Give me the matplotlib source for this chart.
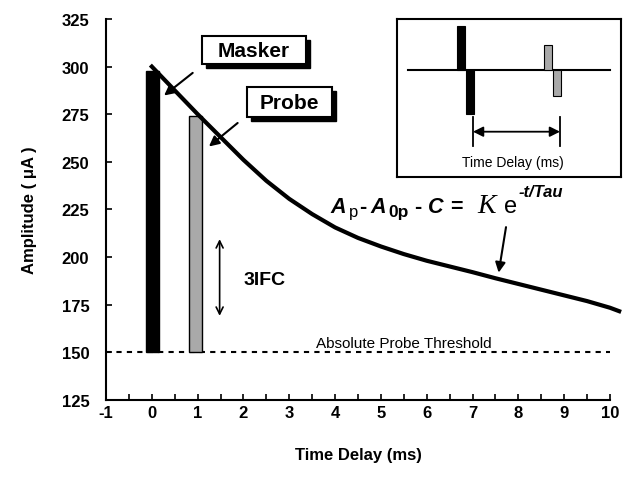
import matplotlib
matplotlib.use("Agg")
import matplotlib.pyplot as plt
from matplotlib.patches import Rectangle

plt.rcParams["font.family"] = ["Liberation Sans", "DejaVu Sans"]
plt.rcParams["axes.unicode_minus"] = False

# Fitted recovery curve
delay_ms = [0, 0.5, 1, 1.5, 2, 2.5, 3, 3.5, 4, 4.5, 5, 5.5, 6, 6.5,
            7, 7.5, 8, 8.5, 9, 9.5, 10, 10.2]
amplitude_ua = [300, 287.5, 275, 263, 251, 240, 230.5, 222.5, 215.5, 210,
                205.5, 201.5, 198, 195, 192, 188.8, 185.8, 182.8, 179.8,
                176.8, 173.3, 171.5]

# Masker / probe bars
stim_names = ["Masker", "Probe"]
stim_delay = [0.02, 0.95]
stim_peak = [297.5, 274]
stim_colors = ["black", "#a9a9a9"]
THRESHOLD = 150

# Inset schematic: biphasic pulse phases
inset_phase_start = [60, 69, 147, 156]
inset_phase_width = [8, 8, 7.5, 7.5]
inset_phase_amp = [44, -44, 25, -26]
inset_phase_color = ["black", "black", "#a9a9a9", "#a9a9a9"]
inset_delay_marks = [76, 163]

xticks = list(range(-1, 11))
yticks = list(range(125, 326, 25))


def drawEquation(fig, ax, x0, y0, pieces):
    fig.canvas.draw()
    r = fig.canvas.get_renderer()
    px, py = ax.transData.transform((x0, y0))
    W, H = fig.bbox.width, fig.bbox.height
    for s, gap, dy, kw in pieces:
        px += gap
        t = fig.text(px / W, (py + dy) / H, s, ha="left", va="baseline", **kw)
        px = t.get_window_extent(r).x1


def shadowBox(ax, x0, x1, y0, y1, label, fs=15):
    ax.add_patch(Rectangle((x0 + 0.09, y0 - 2.1), x1 - x0, y1 - y0,
                           facecolor="black", edgecolor="black", zorder=4))
    ax.add_patch(Rectangle((x0, y0), x1 - x0, y1 - y0, facecolor="white",
                           edgecolor="black", lw=1.5, zorder=5))
    ax.text((x0 + x1) / 2, (y0 + y1) / 2, label, ha="center", va="center",
            fontsize=fs, fontweight="bold", zorder=6)


fig = plt.figure(figsize=(6.33, 4.81), dpi=100)
ax = fig.add_axes([106 / 633, 1 - 400.7 / 481, 504 / 633, 380.7 / 481])

ax.bar(stim_delay, [p - THRESHOLD for p in stim_peak], width=0.28,
       bottom=THRESHOLD, color=stim_colors, edgecolor="black", lw=1, zorder=2)
ax.plot(delay_ms, amplitude_ua, color="black", lw=3, zorder=3, clip_on=False,
        solid_joinstyle="round")
ax.plot([-1, 10], [THRESHOLD, THRESHOLD], color="black", lw=1.5,
        ls=(0, (2.5, 2.5)), zorder=1)

ax.text(5.51, 155, "Absolute Probe Threshold", ha="center", va="center",
        fontsize=11)

shadowBox(ax, 1.09, 3.36, 301.3, 316.1, stim_names[0])
shadowBox(ax, 2.07, 3.93, 273.4, 289.2, stim_names[1])

arrowStyle = dict(arrowstyle="-|>,head_length=0.6,head_width=0.3",
                  color="black", lw=1.5)
ax.annotate("", xy=(0.22, 283.9), xytext=(0.94, 297.6), arrowprops=arrowStyle)
ax.annotate("", xy=(1.2, 257.1), xytext=(1.92, 271.3), arrowprops=arrowStyle)
ax.annotate("", xy=(7.56, 190.3), xytext=(7.74, 217.1), arrowprops=arrowStyle)

# 3IFC double arrow
ax.annotate("", xy=(1.48, 210.8), xytext=(1.48, 167.6),
            arrowprops=dict(arrowstyle="<->,head_length=0.5,head_width=0.25",
                            color="black", lw=1.2))
ax.text(2.47, 188.2, "3IFC", ha="center", va="center", fontsize=14,
        fontweight="bold")

ax.set_xlim(-1, 10)
ax.set_ylim(125, 325)
ax.set_xticks(xticks)
ax.set_xticks([x + 0.5 for x in xticks[:-1]], minor=True)
ax.set_yticks(yticks)
ax.tick_params(axis="both", which="both", direction="in", length=4, width=1.2)
ax.tick_params(axis="x", labelsize=12, pad=4)
ax.tick_params(axis="y", labelsize=12, pad=12)
for lab in ax.get_xticklabels() + ax.get_yticklabels():
    lab.set_fontweight("bold")
for s in ["top", "right"]:
    ax.spines[s].set_visible(False)
for s in ["left", "bottom"]:
    ax.spines[s].set_linewidth(1.5)
ax.set_xlabel("Time Delay (ms)", fontsize=12, fontweight="bold", labelpad=19)
ax.set_ylabel("Amplitude ( \u03bcA )", fontsize=12, fontweight="bold",
              labelpad=18)

# Inset
axIn = fig.add_axes([397 / 633, 1 - 178 / 481, 224 / 633, 158 / 481])
axIn.set_xlim(0, 224)
axIn.set_ylim(-107.3, 50.7)
axIn.set_xticks([])
axIn.set_yticks([])
for s in axIn.spines.values():
    s.set_linewidth(1.5)
axIn.plot([11, 213], [0, 0], color="black", lw=1.5, zorder=1)
axIn.bar(inset_phase_start, inset_phase_amp, width=inset_phase_width,
         align="edge", color=inset_phase_color, edgecolor="black", lw=0.8,
         zorder=2)
for xm in inset_delay_marks:
    axIn.plot([xm, xm], [-47.6, -76], color="black", lw=1.3)
axIn.annotate("", xy=(inset_delay_marks[0], -62), xytext=(inset_delay_marks[1], -62),
              arrowprops=dict(arrowstyle="<|-|>,head_length=0.6,head_width=0.3",
                              color="black", lw=1.3, shrinkA=0, shrinkB=0))
axIn.text(116.3, -92.6, "Time Delay (ms)", ha="center", va="center",
          fontsize=10)

# Equation A_p - A_0p - C = K e^(-t/Tau)
bi = dict(fontsize=15.5, fontweight="bold", style="italic")
bd = dict(fontsize=15.5, fontweight="bold")
drawEquation(fig, ax, 3.89, 223.4, [
    ("A", 0, 0, bi),
    ("p", 3, -4, dict(fontsize=12)),
    ("-", 1, 0, bd),
    ("A", 4, 0, bi),
    ("0p", 3, -4, dict(fontsize=12.5, fontweight="bold")),
    ("-", 5, 0, bd),
    ("C", 7, 0, bi),
    ("=", 6, 0, bd),
    ("K", 15, 0, dict(fontsize=20, style="italic", family="Liberation Serif")),
    ("e", 8, 0, dict(fontsize=17)),
    ("-t/Tau", 2, 16, dict(fontsize=12, fontweight="bold", style="italic")),
])

fig.savefig("out.png", dpi=100)
